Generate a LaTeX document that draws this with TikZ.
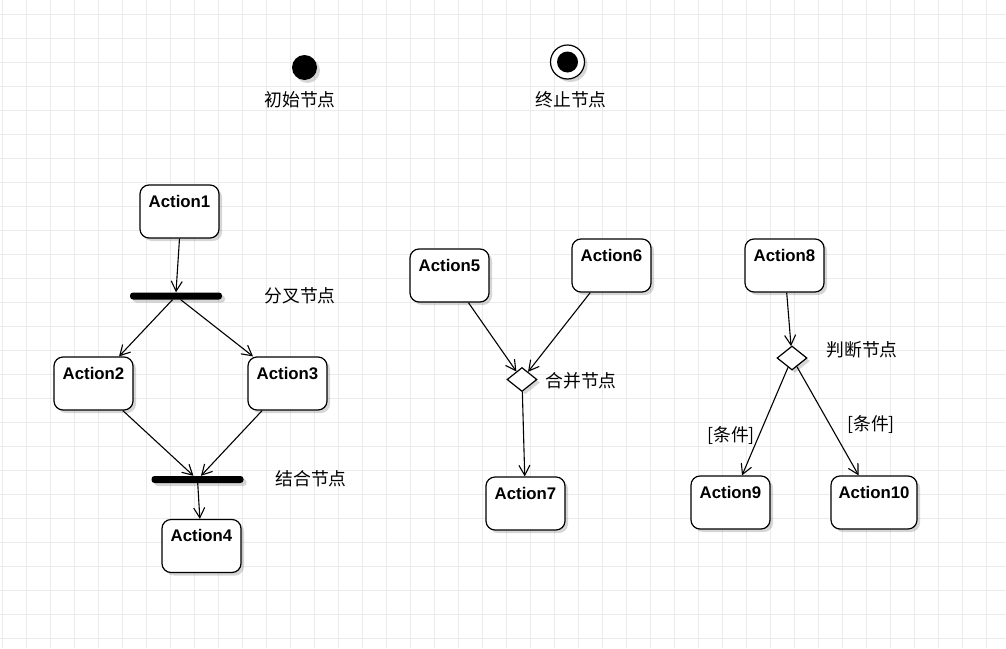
\documentclass[tikz,border=0pt]{standalone}
\usepackage{fontspec}
\setmainfont{Liberation Sans}
\newfontfamily\cjk{Noto Sans CJK SC}
\usetikzlibrary{calc}
\usetikzlibrary{arrows.meta}
\usetikzlibrary{shadows}
\usetikzlibrary{shapes.geometric}
\tikzset{
  gridline/.style={black!8, line width=1pt},
  shade/.style={drop shadow={shadow xshift=3pt, shadow yshift=-3pt, opacity=0.16, fill=black}},
  act/.style={draw, line width=1.2pt, fill=white, rounded corners=9pt, minimum width=79pt, minimum height=53pt, inner sep=0pt, shade},
  acttext/.style={anchor=north, inner sep=0pt, yshift=-10.5pt, font=\bfseries\fontsize{16.8}{19}\selectfont},
  bar/.style={fill=black, rounded corners=3pt, minimum width=92pt, minimum height=7pt, inner sep=0pt, shade},
  dia/.style={draw, diamond, fill=white, line width=1.2pt, minimum width=30pt, minimum height=24pt, inner sep=0pt, shade},
  note/.style={font=\cjk\fontsize{17.8}{20}\selectfont},
  flow/.style={line width=1.1pt, -{Straight Barb[length=10pt, width=11pt, line width=1.1pt]}}
}
\begin{document}
\begin{tikzpicture}[x=1pt, y=-1pt]
\useasboundingbox (0,0) rectangle (1006,648);
\fill[white] (0,0) rectangle (1006,648);
\foreach \gx in {2.7,26.7,...,1006} \draw[gridline] (\gx,0) -- (\gx,648);
\foreach \gy in {14.7,38.7,...,648} \draw[gridline] (0,\gy) -- (1006,\gy);

\node[circle, fill=black, minimum size=25pt, inner sep=0pt, shade] (init) at (304.5,67.5) {};
\node[note] (initlbl) at (300,100) {初始节点};
\node[circle, draw, fill=white, line width=1.2pt, minimum size=34pt, inner sep=0pt, shade] (final) at (567.5,62) {};
\node[circle, fill=black, minimum size=21pt, inner sep=0pt] (finaldot) at (final.center) {};
\node[note] (finallbl) at (571,100) {终止节点};

\node[act, label={[acttext]north:Action1}] (a1) at (179.5,211.5) {};
\node[bar] (fork) at (176,296) {};
\node[note] (forklbl) at (300,296) {分叉节点};
\node[act, label={[acttext]north:Action2}] (a2) at (93.5,383.5) {};
\node[act, label={[acttext]north:Action3}] (a3) at (287.5,383.5) {};
\node[bar] (join) at (197.5,479.5) {};
\node[note] (joinlbl) at (311,479) {结合节点};
\node[act, label={[acttext]north:Action4}] (a4) at (201.5,546) {};

\node[act, label={[acttext]north:Action5}] (a5) at (449.5,275.5) {};
\node[act, label={[acttext]north:Action6}] (a6) at (611.5,265.5) {};
\node[dia] (merge) at (522,379.5) {};
\node[note] (mergelbl) at (581,381) {合并节点};
\node[act, label={[acttext]north:Action7}] (a7) at (525.5,503.5) {};

\node[act, label={[acttext]north:Action8}] (a8) at (784.5,265.5) {};
\node[dia] (dec) at (792,358) {};
\node[note] (declbl) at (862,350) {判断节点};
\node[act, label={[acttext]north:Action9}] (a9) at (730.5,502.5) {};
\node[act, minimum width=86pt, label={[acttext]north:Action10}] (a10) at (874,502.5) {};
\node[note] (condl) at (731,436) {[条件]};
\node[note] (condr) at (871,425) {[条件]};

\draw[flow] (a1.south) -- (fork.north);
\draw[flow] (fork) -- (a2);
\draw[flow] (fork) -- (a3);
\draw[flow] (a2) -- (join);
\draw[flow] (a3) -- (join);
\draw[flow] (join) -- (a4);
\draw[flow] (a5) -- (merge);
\draw[flow] (a6) -- (merge);
\draw[flow] (merge) -- (a7);
\draw[flow] (a8) -- (dec);
\draw[flow] (dec) -- (a9);
\draw[flow] (dec) -- (a10);
\end{tikzpicture}
\end{document}
